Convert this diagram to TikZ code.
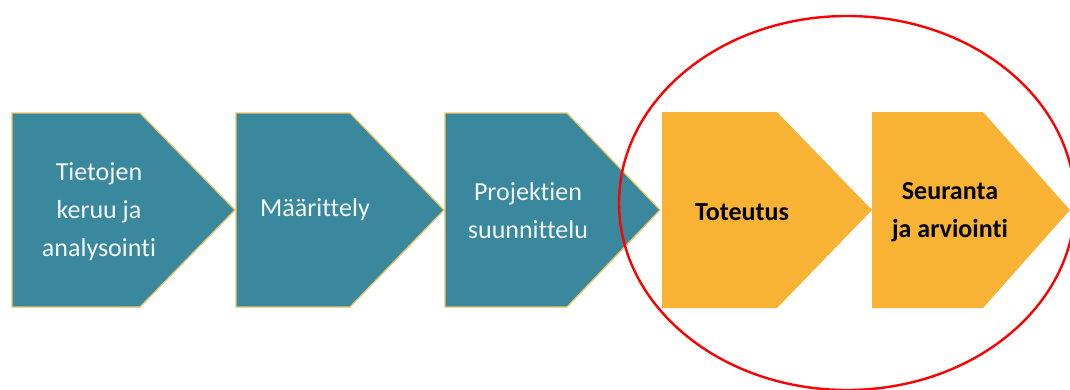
\documentclass[tikz,border=0pt]{standalone}
\usepackage{fontspec}
\setmainfont{Carlito}[Ligatures=NoCommon]
\definecolor{stepteal}{HTML}{3A889E}
\definecolor{stepgold}{HTML}{F8B334}
\definecolor{stepedge}{HTML}{EDC468}
\begin{document}
\begin{tikzpicture}
  [x=1pt,y=-1pt,
  tealstep/.style={fill=stepteal,draw=stepedge,line width=1.3pt},
  goldstep/.style={fill=stepgold},
  every node/.style={align=center,font=\fontsize{26}{38}\selectfont},
  tealtext/.style={text=white!94!stepteal},
  goldtext/.style={text=black,font=\fontsize{26}{38}\selectfont\bfseries}]
\useasboundingbox (0,0) rectangle (1070,389);
% teal steps
\draw[tealstep] (12,113) -- (140,113) -- (235,210) -- (140,307) -- (12,307) -- cycle;
\draw[tealstep] (236,113) -- (350,113) -- (444,210) -- (350,307) -- (236,307) -- cycle;
\draw[tealstep] (445,113) -- (567,113) -- (660,210) -- (567,307) -- (445,307) -- cycle;
% gold steps
\fill[goldstep] (662,112) -- (777,112) -- (872,210) -- (777,308) -- (662,308) -- cycle;
\fill[goldstep] (872,112) -- (983,112) -- (1070,210) -- (983,308) -- (872,308) -- cycle;
\node[tealtext] (keruu) at (99,212) {Tietojen\\keruu ja\\analysointi};
\node[tealtext] (maar) at (315,210) {Määrittely};
\node[tealtext] (suun) at (528,211) {Projektien\\suunnittelu};
\node[goldtext] (tot) at (742,212) {Toteutus};
\node[goldtext] (seur) at (950,212) {Seuranta\\ja arviointi};
% focus ring
\draw[red,line width=2.4pt] (847,203) ellipse [x radius=228,y radius=187];
\end{tikzpicture}
\end{document}
